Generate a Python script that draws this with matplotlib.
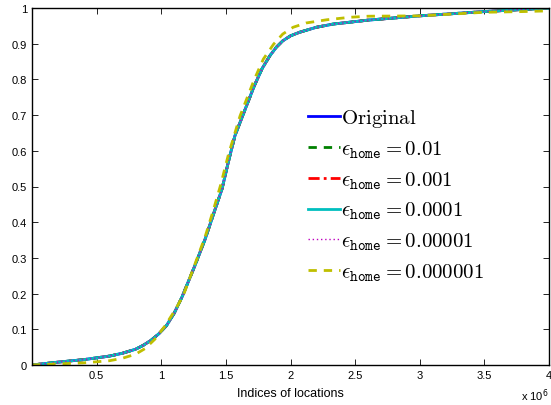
import matplotlib
matplotlib.use('Agg')
import matplotlib.pyplot as plt

plt.rcParams['mathtext.fontset'] = 'cm'
plt.rcParams['font.family'] = ['Liberation Sans', 'DejaVu Sans']

# x positions (in units of 1e6) and cumulative fractions
x_orig = [0.0, 0.2, 0.4, 0.6, 0.7, 0.8, 0.86, 0.92, 0.98, 1.04, 1.1, 1.16,
          1.26, 1.34, 1.40, 1.47, 1.52, 1.57, 1.65, 1.72, 1.78, 1.84, 1.89,
          1.94, 2.0, 2.07, 2.2, 2.33, 2.6, 3.0, 3.5, 4.0]
y_orig = [0.0, 0.008, 0.015, 0.025, 0.033, 0.044, 0.055, 0.069, 0.087, 0.11,
          0.145, 0.19, 0.278, 0.353, 0.418, 0.493, 0.57, 0.642, 0.717, 0.782,
          0.83, 0.866, 0.89, 0.908, 0.922, 0.932, 0.946, 0.955, 0.966, 0.978,
          0.99, 1.0]

x_yell = [0.0, 0.2, 0.4, 0.6, 0.7, 0.8, 0.875, 0.95, 1.03, 1.1, 1.17, 1.26,
          1.34, 1.40, 1.46, 1.52, 1.61, 1.72, 1.79, 1.87, 1.94, 2.02, 2.12,
          2.28, 2.46, 2.6, 3.0, 3.5, 3.8, 4.0]
y_yell = [0.0, 0.003, 0.006, 0.012, 0.019, 0.03, 0.046, 0.072, 0.11, 0.15,
          0.194, 0.282, 0.36, 0.43, 0.505, 0.59, 0.698, 0.80, 0.857, 0.899,
          0.927, 0.946, 0.958, 0.967, 0.974, 0.977, 0.978, 0.988, 0.99, 0.992]

labels = [r'$\mathrm{Original}$',
          r'$\epsilon_{\mathtt{home}} = 0.01$',
          r'$\epsilon_{\mathtt{home}} = 0.001$',
          r'$\epsilon_{\mathtt{home}} = 0.0001$',
          r'$\epsilon_{\mathtt{home}} = 0.00001$',
          r'$\epsilon_{\mathtt{home}} = 0.000001$']

fig = plt.figure(figsize=(5.51, 4.06), dpi=100)
ax = fig.add_axes([32 / 551, 40 / 406, 517 / 551, 357 / 406])

ax.plot(x_orig, y_orig, color='#0000ff', lw=2, ls='-', label=labels[0])
ax.plot(x_orig, y_orig, color='#008000', lw=2, ls=(0, (3, 2.5)), label=labels[1])
ax.plot(x_orig, y_orig, color='#ff0000', lw=2, ls=(0, (4, 1.5, 1, 1.5)), label=labels[2])
ax.plot(x_orig, y_orig, color='#00bfbf', lw=2, ls='-', label=labels[3])
ax.plot(x_orig, y_orig, color='#bf00bf', lw=1, ls=(0, (1, 2)), label=labels[4])
ax.plot(x_yell, y_yell, color='#bfbf00', lw=2, ls=(0, (3, 2.5)), label=labels[5])

ax.set_xlim(0, 4)
ax.set_ylim(0, 1)
ax.set_xticks([0.5, 1, 1.5, 2, 2.5, 3, 3.5, 4])
ax.set_xticklabels(['0.5', '1', '1.5', '2', '2.5', '3', '3.5', '4'])
ax.set_yticks([i / 10 for i in range(11)])
ax.set_yticklabels(['0', '0.1', '0.2', '0.3', '0.4', '0.5', '0.6', '0.7', '0.8', '0.9', '1'])
ax.tick_params(direction='in', top=True, right=True, labelsize=8, length=4, width=0.6)
for s in ax.spines.values():
    s.set_linewidth(1)

ax.set_xlabel('Indices of locations', fontsize=9, labelpad=5)
fig.text(549 / 551, 1 - 401 / 406, r'x 10$^{6}$', fontsize=8, ha='right',
         va='baseline', math_fontfamily='dejavusans')

leg = ax.legend(loc='upper left', bbox_to_anchor=(0.534, 0.722), frameon=False,
                fontsize=15, handlelength=1.55, handletextpad=0.05,
                labelspacing=0.44, borderpad=0, borderaxespad=0)

fig.savefig('out.png', dpi=100)
